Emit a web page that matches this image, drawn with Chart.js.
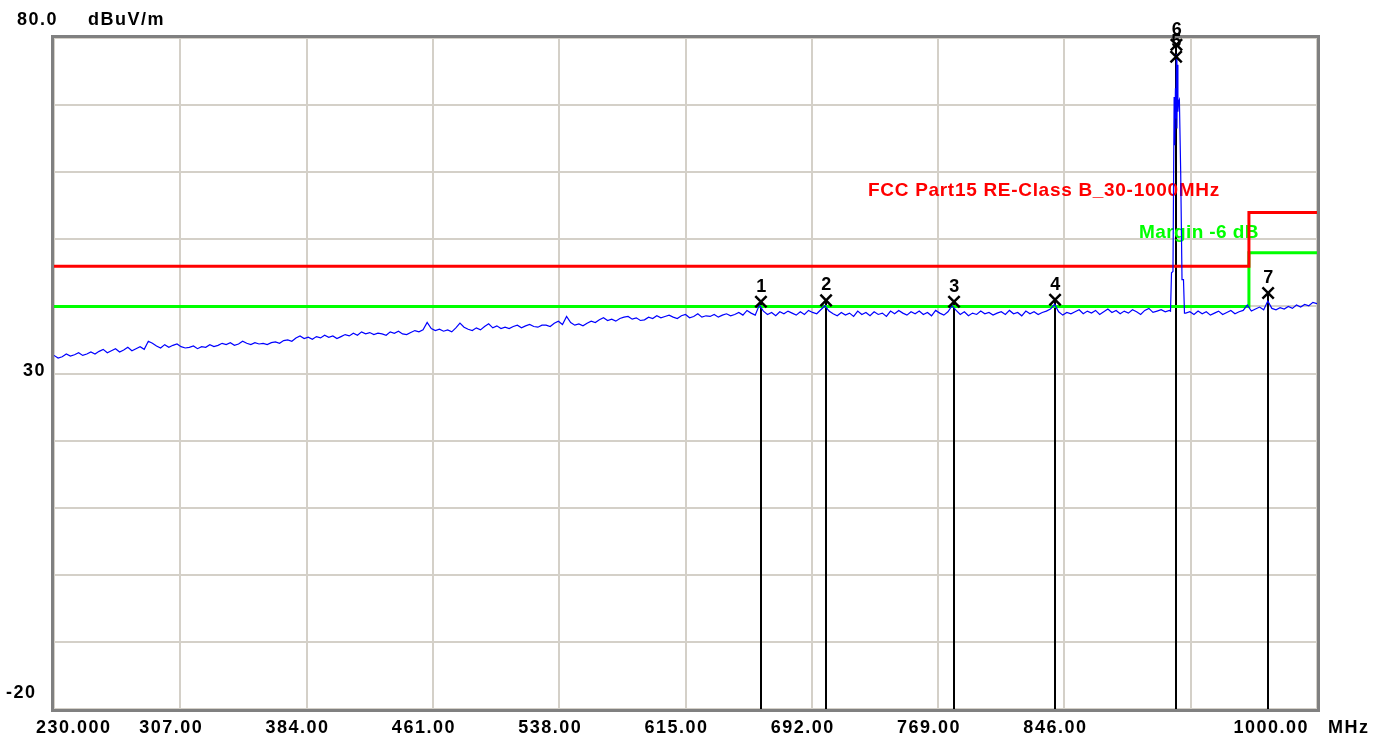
<!DOCTYPE html>
<html>
<head>
<meta charset="utf-8">
<title>Radiated emission 230-1000 MHz</title>
<script src="https://cdn.jsdelivr.net/npm/chart.js@4.4.1/dist/chart.umd.min.js"></script>
<style>
  html, body { margin: 0; padding: 0; background: #ffffff; }
  #wrap { width: 1375px; height: 740px; position: relative; }
</style>
</head>
<body>
<div id="wrap"><canvas id="emiChart" width="1375" height="740"></canvas></div>
<script>
// ===== DATA =====
const sweepStart = 230;   // MHz
const sweepStep = 2.5;    // MHz between sweep points
const sweepLevels = [
  32.7, 32.3, 32.5, 32.9, 32.6, 32.8, 33.1, 32.7, 32.9, 33.2,
  32.9, 33.3, 33.6, 33.1, 33.4, 33.7, 33.2, 33.5, 33.9, 33.4,
  33.7, 34.0, 33.6, 34.8, 34.5, 34.1, 33.8, 34.3, 33.9, 34.2,
  34.4, 34.0, 33.8, 33.9, 34.1, 33.7, 34.0, 33.9, 34.3, 34.0,
  34.2, 34.5, 34.3, 34.6, 34.2, 34.4, 34.8, 34.5, 34.3, 34.6,
  34.4, 34.5, 34.3, 34.6, 34.7, 34.5, 34.9, 35.0, 34.8, 35.3,
  35.6, 35.2, 35.4, 35.1, 35.5, 35.3, 35.7, 35.4, 35.6, 35.2,
  35.5, 35.8, 35.6, 36.0, 35.7, 36.2, 35.9, 36.1, 35.8, 36.0,
  35.9, 35.7, 36.2, 36.0, 36.3, 35.9, 35.8, 36.1, 36.4, 36.2,
  36.5, 37.6, 36.7, 36.4, 36.6, 36.3, 36.5, 36.2, 36.8, 37.5,
  36.9, 36.6, 36.4, 36.8, 36.5, 37.0, 37.4, 36.8, 37.1, 36.7,
  36.9, 36.7, 37.0, 37.2, 36.8, 37.1, 37.3, 37.0, 36.9, 37.2,
  37.2, 37.0, 37.5, 37.8, 37.3, 38.5, 37.6, 37.2, 37.4, 37.1,
  37.5, 37.8, 37.6, 38.0, 38.3, 37.9, 38.1, 37.8, 38.2, 38.4,
  38.5, 38.1, 38.3, 37.9, 38.0, 38.4, 38.2, 38.6, 38.3, 38.5,
  38.7, 38.4, 38.2, 38.6, 38.8, 38.3, 38.5, 38.9, 38.4, 38.6,
  38.5, 38.8, 38.4, 38.7, 38.9, 38.6, 38.8, 39.1, 38.7, 39.4,
  39.0, 38.7, 40.2, 39.3, 38.8, 39.1, 38.6, 39.2, 38.9, 39.3,
  39.0, 38.7, 39.2, 38.8, 39.4, 39.1, 38.9, 39.5, 40.1, 39.3,
  38.9, 38.6, 39.1, 38.7, 39.0, 38.5, 39.3, 38.8, 39.1, 38.6,
  39.2, 38.8, 39.0, 38.5, 39.3, 38.9, 39.4, 39.0, 38.7, 39.2,
  38.9, 39.3, 38.8, 39.1, 38.6, 39.4, 39.0, 38.7, 39.2, 40.1,
  39.4, 38.8, 39.2, 38.6, 39.0, 38.8, 39.3, 38.9, 39.1, 38.7,
  39.0, 39.2, 38.8, 39.4, 38.9, 39.1, 38.6, 39.3, 38.9, 39.2,
  38.8, 39.1, 39.3, 39.6, 40.3, 39.2, 38.7, 39.1, 38.9, 39.2,
  39.5, 38.9, 39.3, 39.0, 39.4, 38.8, 39.2, 39.6, 39.1, 39.4,
  38.9, 39.3, 39.0, 39.5, 39.2, 38.8, 39.4, 39.7, 39.1, 39.3,
  39.5, 39.2, 39.4, 39.6, 39.3, 39.5, 39.0, 39.2, 38.8, 39.3,
  38.9, 39.2, 38.7, 39.0, 39.3, 38.8, 39.1, 39.4, 38.9, 39.2,
  39.4, 40.2, 39.3, 39.6, 39.9, 39.5, 40.8, 39.7, 39.5, 39.8,
  39.6, 40.0, 39.7, 40.2, 39.9, 40.3, 40.1, 40.6, 40.4
];

// the carrier around 914 MHz, read at finer resolution
const peakFreqs = [910.7, 911.3, 912.2, 912.9, 913.3, 913.7, 914.0, 914.3, 914.6, 914.9, 915.2, 915.6, 916.1, 916.9, 917.7, 918.6, 919.2];
const peakLevels = [39.3, 45.0, 45.2, 71.2, 64.0, 72.5, 68.0, 77.6, 66.5, 76.0, 69.0, 70.5, 70.8, 60.0, 44.0, 44.0, 39.0];

const limitFreqs = [230, 958.5, 958.5, 1000];
const limitLevels = [46, 46, 54, 54];     // FCC Part15 Class B
const marginLevels = [40, 40, 48, 48];    // limit - 6 dB

const markerNames = ['1', '2', '3', '4', '5', '6', '7'];
const markerFreqs = [661.0, 700.7, 778.7, 840.3, 914.1, 914.3, 970.2];
const markerLevels = [40.7, 40.9, 40.7, 41.0, 77.2, 79.0, 42.0];

const xTicks = [230, 307, 384, 461, 538, 615, 692, 769, 846, 923, 1000];
const xTickLabels = ['230.000', '307.00', '384.00', '461.00', '538.00', '615.00', '692.00', '769.00', '846.00', '', '1000.00'];
const yLabels = ['80.0', '30', '-20'];

// ===== BUILD SERIES =====
function buildTrace() {
  const lo = peakFreqs[0], hi = peakFreqs[peakFreqs.length - 1];
  const pts = [];
  sweepLevels.forEach((v, i) => {
    const f = sweepStart + i * sweepStep;
    if (f > lo && f < hi) return; // replaced by the fine peak reading
    pts.push({ x: f, y: v });
  });
  peakFreqs.forEach((f, i) => pts.push({ x: f, y: peakLevels[i] }));
  return pts.sort((a, b) => a.x - b.x);
}

function pairs(xs, ys) {
  return xs.map((x, i) => ({ x: x, y: ys[i] }));
}

const FONT = 'bold 18px "Liberation Sans", Arial, sans-serif';
const FONT_NOTE = 'bold 19px "Liberation Sans", Arial, sans-serif';

function setSpacing(ctx, px) {
  if ('letterSpacing' in ctx) ctx.letterSpacing = px + 'px';
}

// ===== PLUGIN: frame, marker lines, texts =====
const emiDecor = {
  id: 'emiDecor',
  beforeDatasetsDraw(chart) {
    const { ctx, chartArea: a, scales: { x, y } } = chart;
    ctx.save();
    // marker drop lines
    ctx.strokeStyle = '#000000';
    ctx.lineWidth = 2;
    markerFreqs.forEach((f, i) => {
      const px = Math.round(x.getPixelForValue(f));
      ctx.beginPath();
      ctx.moveTo(px, y.getPixelForValue(markerLevels[i]));
      ctx.lineTo(px, a.bottom);
      ctx.stroke();
    });
    // limit captions
    ctx.font = FONT_NOTE;
    ctx.textBaseline = 'alphabetic';
    ctx.textAlign = 'left';
    setSpacing(ctx, 0.7);
    ctx.fillStyle = '#ff0000';
    ctx.fillText('FCC Part15 RE-Class B_30-1000MHz', 868, 196);
    setSpacing(ctx, 0.4);
    ctx.fillStyle = '#00ff00';
    ctx.fillText('Margin -6 dB', 1139, 238);
    ctx.restore();
  },
  afterDraw(chart) {
    const { ctx, chartArea: a, scales: { x, y } } = chart;
    ctx.save();
    // frame
    ctx.strokeStyle = '#808080';
    ctx.lineWidth = 3;
    ctx.strokeRect(a.left - 1.5, a.top - 1.5, a.right - a.left + 3, a.bottom - a.top + 3);

    ctx.font = FONT;
    setSpacing(ctx, 1.5);
    ctx.fillStyle = '#000000';
    ctx.textBaseline = 'alphabetic';

    // marker numbers
    ctx.textAlign = 'center';
    markerFreqs.forEach((f, i) => {
      ctx.fillText(markerNames[i], x.getPixelForValue(f) + 1, y.getPixelForValue(markerLevels[i]) - 10);
    });

    // x axis labels
    const base = a.bottom + 24;
    xTicks.forEach((t, i) => {
      const lbl = xTickLabels[i];
      if (!lbl) return;
      const px = x.getPixelForValue(t);
      if (i === 0) {
        ctx.textAlign = 'left';
        ctx.fillText(lbl, px - 18, base);
      } else if (i === xTicks.length - 1) {
        ctx.textAlign = 'right';
        ctx.fillText(lbl, px - 8, base);
      } else {
        ctx.textAlign = 'center';
        ctx.fillText(lbl, px - 9, base);
      }
    });
    ctx.textAlign = 'left';
    ctx.fillText('MHz', a.right + 11, base);

    // y axis labels
    ctx.fillText(yLabels[0], 17, a.top - 13);
    ctx.fillText('dBuV/m', 88, a.top - 13);
    ctx.fillText(yLabels[1], 23, y.getPixelForValue(30) + 2);
    ctx.fillText(yLabels[2], 6, y.getPixelForValue(-20) - 11);
    ctx.restore();
  }
};

function drawEmiChart() {
  const el = document.getElementById('emiChart');
  new Chart(el, {
    type: 'line',
    data: {
      datasets: [
        {
          label: 'Markers', type: 'scatter', data: pairs(markerFreqs, markerLevels),
          pointStyle: 'crossRot', pointRadius: 8, pointBorderWidth: 2.5,
          borderColor: '#000000', backgroundColor: '#000000', showLine: false
        },
        {
          label: 'Trace', data: buildTrace(), borderColor: '#0000ff',
          borderWidth: 1.2, pointRadius: 0, tension: 0
        },
        {
          label: 'Limit', data: pairs(limitFreqs, limitLevels), borderColor: '#ff0000',
          borderWidth: 3, pointRadius: 0, tension: 0
        },
        {
          label: 'Margin', data: pairs(limitFreqs, marginLevels), borderColor: '#00ff00',
          borderWidth: 3, pointRadius: 0, tension: 0
        }
      ]
    },
    options: {
      responsive: false,
      animation: false,
      layout: { padding: { left: 54, top: 38, right: 58, bottom: 31 } },
      plugins: { legend: { display: false }, tooltip: { enabled: false } },
      scales: {
        x: {
          type: 'linear', min: 230, max: 1000,
          afterBuildTicks: s => { s.ticks = xTicks.map(v => ({ value: v })); },
          ticks: { display: false },
          grid: { color: '#d4d0c8', lineWidth: 2, drawTicks: false },
          border: { display: false }
        },
        y: {
          type: 'linear', min: -20, max: 80,
          ticks: { display: false, stepSize: 10 },
          grid: { color: '#d4d0c8', lineWidth: 2, drawTicks: false },
          border: { display: false }
        }
      }
    },
    plugins: [emiDecor]
  });
}

drawEmiChart();
</script>
</body>
</html>
